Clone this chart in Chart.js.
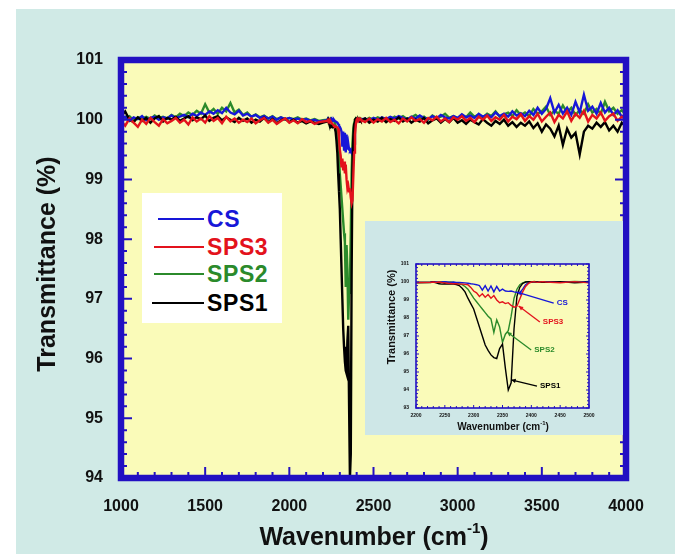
<!DOCTYPE html>
<html>
<head>
<meta charset="utf-8">
<script src="https://cdn.jsdelivr.net/npm/chart.js@4.4.1/dist/chart.umd.min.js"></script>
<style>
  body { margin: 0; background: #fff; }
  #page { position: relative; width: 675px; height: 554px; background: #fff; overflow: hidden; }
  #bg { position: absolute; left: 16px; top: 9px; right: 0; bottom: 0; background: #d0eae6; }
  #main { position: absolute; left: 0; top: 0; }
  #legend { position: absolute; left: 142px; top: 193px; width: 140px; height: 130px; background: #fff;
            font: bold 23px 'Liberation Sans', Arial, sans-serif; letter-spacing: 0.6px; }
  #legend .row { position: absolute; left: 0; height: 26px; }
  #legend .line { position: absolute; top: 12px; height: 2px; }
  #legend .txt { position: absolute; left: 65px; top: 0; line-height: 26px; }
  #insetBox { position: absolute; left: 365px; top: 221px; width: 258px; height: 214px; background: #cee7e7; }
  #inset { position: absolute; left: 0; top: 0; }
</style>
</head>
<body>
<div id="page">
  <div id="bg"></div>
  <canvas id="main" width="675" height="554"></canvas>
  <div id="legend"></div>
  <div id="insetBox"><canvas id="inset" width="258" height="214"></canvas></div>
</div>
<script>
// sampling grid (cm-1): coarse baseline, fine steps through the CO2 band
const leftWavenumbers = [];
for (let w = 1000; w <= 2225; w += 25) leftWavenumbers.push(w);
const dipWavenumbers = [];
for (let w = 2230; w <= 2420; w += 5) dipWavenumbers.push(w);
const rightWavenumbers = [];
for (let w = 2425; w <= 4000; w += 25) rightWavenumbers.push(w);

// CS
const csLeft = [
  100.02, 100.05, 99.98, 100.04, 100.01, 100.06, 99.99, 100.03, 100.05, 100.0,
  100.04, 100.02, 100.07, 100.03, 100.05, 100.08, 100.04, 100.1, 100.06, 100.12,
  100.08, 100.14, 100.1, 100.16, 100.11, 100.2, 100.12, 100.09, 100.15, 100.07,
  100.1, 100.05, 100.08, 100.03, 100.06, 100.02, 100.05, 100.0, 100.04, 100.01,
  100.03, 100.0, 100.02, 99.99, 100.01, 99.98, 100.0, 99.97, 99.98, 99.99
];
const csDip = [
  100.02, 100.0, 99.98, 100.0, 100.02, 100.0, 99.98, 100.0, 99.98, 99.97,
  99.96, 99.95, 99.93, 99.9, 99.88, 99.85, 99.8, 99.55, 99.8, 99.5,
  99.78, 99.45, 99.75, 99.5, 99.6, 99.5, 99.48, 99.5, 99.45, 99.42,
  99.4, 99.6, 99.85, 99.97, 100.0, 100.02, 100.0, 99.98, 100.0
];
const csRight = [
  100.0, 100.02, 99.98, 100.03, 100.0, 100.04, 100.01, 100.05, 100.02, 100.06,
  100.03, 100.0, 100.05, 100.02, 100.07, 100.03, 100.01, 100.06, 100.02, 100.08,
  100.04, 100.02, 100.06, 100.03, 100.09, 100.04, 100.07, 100.03, 100.1, 100.05,
  100.08, 100.04, 100.12, 100.06, 100.1, 100.05, 100.14, 100.07, 100.11, 100.06,
  100.15, 100.08, 100.2, 100.1, 100.18, 100.36, 100.12, 100.25, 100.1, 100.2,
  100.08, 100.3, 100.12, 100.42, 100.15, 100.22, 100.1, 100.28, 100.12, 100.2,
  100.08, 100.16, 100.05, 100.1
];

// SPS3
const sps3Left = [
  99.98, 99.9, 100.02, 99.95, 99.88, 100.0, 99.93, 100.03, 99.96, 99.9,
  100.01, 99.94, 99.98, 100.03, 99.95, 100.0, 99.92, 100.04, 99.97, 100.02,
  99.95, 100.06, 99.98, 100.03, 99.94, 100.05, 99.97, 100.02, 99.95, 100.0,
  99.96, 100.02, 99.94, 99.99, 100.03, 99.95, 100.0, 99.93, 99.98, 100.02,
  99.95, 99.99, 99.94, 100.01, 99.96, 99.98, 99.93, 99.96, 99.97, 99.98
];
const sps3Dip = [
  100.0, 99.98, 100.0, 99.97, 99.95, 99.93, 99.92, 99.9, 99.9, 99.88,
  99.88, 99.87, 99.85, 99.7, 99.5, 99.4, 99.2, 99.35, 99.15, 99.3,
  99.1, 99.25, 99.0, 98.85, 98.9, 98.8, 98.85, 98.7, 98.6, 98.65,
  99.05, 99.45, 99.75, 99.92, 100.0, 100.02, 99.98, 100.0, 100.02
];
const sps3Right = [
  100.0, 99.96, 100.02, 99.95, 100.01, 99.97, 100.03, 99.96, 100.0, 99.94,
  100.02, 99.97, 100.04, 99.98, 100.01, 99.95, 100.03, 99.99, 100.05, 99.97,
  100.02, 99.96, 100.04, 100.0, 100.06, 99.98, 100.03, 99.96, 100.05, 100.0,
  100.07, 99.98, 100.04, 100.0, 100.08, 99.97, 100.05, 100.01, 100.09, 99.98,
  100.06, 100.0, 100.1, 99.97, 100.05, 100.12, 99.96, 100.08, 100.02, 100.14,
  99.98, 100.1, 100.03, 100.15, 99.97, 100.08, 100.02, 100.12, 99.98, 100.06,
  100.1, 99.98, 100.05, 100.0
];

// SPS2
const sps2Left = [
  100.0, 100.03, 100.06, 99.99, 100.04, 100.02, 100.05, 100.01, 100.07, 100.03,
  100.05, 100.02, 100.08, 100.04, 100.1, 100.06, 100.12, 100.08, 100.15, 100.1,
  100.26, 100.12, 100.18, 100.1, 100.2, 100.14, 100.28, 100.12, 100.17, 100.08,
  100.12, 100.05, 100.09, 100.04, 100.07, 100.02, 100.06, 100.01, 100.04, 100.0,
  100.03, 100.01, 100.04, 100.0, 100.02, 99.99, 100.01, 99.98, 99.99, 100.0
];
const sps2Dip = [
  100.02, 100.0, 100.0, 100.02, 100.0, 99.98, 100.0, 99.98, 99.95, 99.9,
  99.85, 99.75, 99.6, 99.35, 99.1, 98.9, 98.7, 98.5, 98.3, 98.1,
  97.95, 97.2, 97.9, 97.5, 96.65, 97.1, 97.3, 98.1, 99.1, 99.6,
  99.85, 99.95, 100.0, 100.02, 100.0, 100.03, 100.0, 100.02, 100.0
];
const sps2Right = [
  100.02, 99.99, 100.03, 100.0, 100.04, 100.01, 100.03, 99.99, 100.05, 100.02,
  100.06, 100.01, 100.04, 100.08, 100.02, 100.05, 100.0, 100.07, 100.03, 100.05,
  100.1, 100.03, 100.06, 100.02, 100.08, 100.04, 100.12, 100.05, 100.08, 100.04,
  100.1, 100.06, 100.14, 100.05, 100.09, 100.12, 100.06, 100.16, 100.08, 100.12,
  100.06, 100.18, 100.1, 100.14, 100.22, 100.08, 100.15, 100.1, 100.24, 100.12,
  100.2, 100.08, 100.16, 100.1, 100.26, 100.12, 100.18, 100.1, 100.3, 100.14,
  100.2, 100.1, 100.16, 100.08
];

// SPS1
const sps1Left = [
  100.05, 100.14, 100.0, 99.96, 100.04, 99.98, 100.03, 99.95, 100.02, 100.06,
  99.97, 100.03, 100.0, 100.05, 99.98, 100.02, 100.06, 99.99, 100.04, 100.01,
  100.07, 99.98, 100.03, 100.06, 99.99, 100.04, 100.0, 99.96, 100.03, 99.98,
  100.02, 99.95, 100.0, 99.97, 100.03, 99.96, 100.01, 99.94, 99.99, 100.02,
  99.96, 100.0, 99.95, 99.98, 99.94, 99.97, 99.95, 99.93, 99.95, 99.97
];
const sps1Dip = [
  100.0, 99.95, 99.9, 99.88, 99.9, 99.88, 99.9, 99.88, 99.86, 99.8,
  99.65, 99.45, 99.1, 98.8, 98.5, 98.0, 97.5, 97.0, 96.5, 96.2,
  95.95, 95.8, 95.75, 96.3, 96.55, 95.2, 94.0, 94.4, 97.4, 99.2,
  99.7, 99.92, 100.0, 100.02, 100.0, 100.02, 100.0, 99.98, 100.0
];
const sps1Right = [
  99.98, 100.02, 99.95, 100.0, 99.97, 100.03, 99.96, 100.01, 99.98, 100.04,
  99.97, 100.02, 99.95, 100.0, 99.97, 100.03, 99.94, 99.99, 100.02, 99.95,
  100.01, 99.96, 100.03, 99.95, 99.99, 99.93, 100.0, 99.96, 99.92, 100.01,
  99.95, 99.9, 99.98, 99.93, 100.0, 99.9, 99.96, 99.88, 99.95, 99.9,
  99.97, 99.86, 99.94, 99.8, 99.92, 99.85, 99.72, 99.9, 99.58, 99.85,
  99.7, 99.78, 99.42, 99.8, 99.9, 99.85, 99.95, 99.88, 99.96, 99.82,
  99.9, 99.8, 99.95, 99.88
];

// axis ticks
const mainXTicks = [1000, 1500, 2000, 2500, 3000, 3500, 4000];
const mainYTicks = [94, 95, 96, 97, 98, 99, 100, 101];
const insetXTicks = [2200, 2250, 2300, 2350, 2400, 2450, 2500];
const insetYTicks = [93, 94, 95, 96, 97, 98, 99, 100, 101];

const FONT = "'Liberation Sans', Arial, sans-serif";
const FRAME = '#2210c2';
const PLOT_BG = '#fafbb9';
const colors = { cs: '#1717d8', sps3: '#e3121c', sps2: '#2b8a2b', sps1: '#000000' };

const wavenumbers = leftWavenumbers.concat(dipWavenumbers, rightWavenumbers);
function pts(left, dip, right) {
  const ys = left.concat(dip, right);
  return wavenumbers.map((x, i) => ({ x: x, y: ys[i] }));
}

// legend order: CS, SPS3, SPS2, SPS1 (red is drawn on top)
const series = [
  { label: 'SPS3', data: pts(sps3Left, sps3Dip, sps3Right), color: colors.sps3 },
  { label: 'SPS1', data: pts(sps1Left, sps1Dip, sps1Right), color: colors.sps1 },
  { label: 'CS', data: pts(csLeft, csDip, csRight), color: colors.cs },
  { label: 'SPS2', data: pts(sps2Left, sps2Dip, sps2Right), color: colors.sps2 }
];

function makeDatasets(width) {
  return series.map(s => ({
    label: s.label,
    data: s.data,
    borderColor: s.color,
    borderWidth: width,
    pointRadius: 0,
    tension: 0,
    fill: false
  }));
}

// frame, inward ticks, axis titles
function framePlugin(o) {
  return {
    id: 'frame',
    beforeDraw(chart) {
      const { ctx, chartArea: a } = chart;
      ctx.save();
      ctx.fillStyle = PLOT_BG;
      ctx.fillRect(a.left, a.top, a.right - a.left, a.bottom - a.top);
      ctx.restore();
    },
    afterDraw(chart) {
      const { ctx, chartArea: a, scales: { x, y } } = chart;
      ctx.save();
      ctx.strokeStyle = FRAME;
      ctx.lineWidth = o.tickWidth;
      ctx.beginPath();
      const nx = Math.round((x.max - x.min) / o.xMinor);
      for (let k = 0; k <= nx; k++) {
        const v = x.min + k * o.xMinor;
        const px = x.getPixelForValue(v);
        const len = (Math.round(v) % o.xMajor === 0) ? o.major : o.minor;
        ctx.moveTo(px, a.bottom); ctx.lineTo(px, a.bottom - len);
        if (o.topTicks) { ctx.moveTo(px, a.top); ctx.lineTo(px, a.top + len); }
      }
      const ny = Math.round((y.max - y.min) / o.yMinor);
      for (let k = 0; k <= ny; k++) {
        const v = y.min + k * o.yMinor;
        const py = y.getPixelForValue(v);
        const len = (Math.abs(v - Math.round(v)) < 1e-6) ? o.major : o.minor;
        ctx.moveTo(a.left, py); ctx.lineTo(a.left + len, py);
        ctx.moveTo(a.right, py); ctx.lineTo(a.right - len, py);
      }
      ctx.stroke();
      ctx.lineWidth = o.frameWidth;
      ctx.strokeRect(a.left, a.top, a.right - a.left, a.bottom - a.top);

      // axis titles
      ctx.fillStyle = '#111';
      ctx.textBaseline = 'middle';
      ctx.font = 'bold ' + o.titleSize + 'px ' + FONT;
      const base = 'Wavenumber (cm';
      const wBase = ctx.measureText(base).width;
      const wClose = ctx.measureText(')').width;
      ctx.font = 'bold ' + (o.titleSize * 0.6) + 'px ' + FONT;
      const wSup = ctx.measureText('-1').width;
      let sx = o.xTitle[0] - (wBase + wSup + wClose) / 2;
      ctx.textAlign = 'left';
      ctx.font = 'bold ' + o.titleSize + 'px ' + FONT;
      ctx.fillText(base, sx, o.xTitle[1]);
      ctx.font = 'bold ' + (o.titleSize * 0.6) + 'px ' + FONT;
      ctx.fillText('-1', sx + wBase, o.xTitle[1] - o.titleSize * 0.35);
      ctx.font = 'bold ' + o.titleSize + 'px ' + FONT;
      ctx.fillText(')', sx + wBase + wSup, o.xTitle[1]);

      ctx.translate(o.yTitle[0], o.yTitle[1]);
      ctx.rotate(-Math.PI / 2);
      ctx.textAlign = 'center';
      ctx.font = 'bold ' + o.yTitleSize + 'px ' + FONT;
      ctx.fillText('Transmittance (%)', 0, 0);
      ctx.restore();
    }
  };
}

function axes(o) {
  const tickFont = { family: FONT, size: o.tickSize, weight: 'bold' };
  return {
    x: {
      type: 'linear', min: o.xTicks[0], max: o.xTicks[o.xTicks.length - 1],
      afterBuildTicks: s => { s.ticks = o.xTicks.map(v => ({ value: v })); },
      afterFit: s => { s.height = o.xHeight; },
      grid: { display: false, drawTicks: false },
      border: { display: false },
      ticks: { color: '#111', padding: o.xPad, maxRotation: 0, font: tickFont, callback: v => String(v) }
    },
    y: {
      min: o.yTicks[0], max: o.yTicks[o.yTicks.length - 1],
      afterBuildTicks: s => { s.ticks = o.yTicks.map(v => ({ value: v })); },
      afterFit: s => { s.width = o.yWidth; },
      grid: { display: false, drawTicks: false },
      border: { display: false },
      ticks: { color: '#111', padding: o.yPad, font: tickFont, callback: v => String(v) }
    }
  };
}

new Chart(document.getElementById('main'), {
  type: 'line',
  data: { datasets: makeDatasets(2.4) },
  options: {
    responsive: false,
    animation: false,
    layout: { padding: { top: 60, right: 49, left: 0, bottom: 0 } },
    plugins: { legend: { display: false }, tooltip: { enabled: false } },
    scales: axes({ xTicks: mainXTicks, yTicks: mainYTicks, xHeight: 76, yWidth: 121, xPad: 19, yPad: 18, tickSize: 16 })
  },
  plugins: [framePlugin({ tickWidth: 2, major: 11, minor: 6, xMinor: 100, xMajor: 500, yMinor: 0.2,
                          frameWidth: 6.5, topTicks: false, titleSize: 25, yTitleSize: 25,
                          xTitle: [374, 538], yTitle: [48, 264] })]
});

// inset: zoom on the 2200-2500 cm-1 band
const insetNotes = [
  { label: 'CS', color: colors.cs, text: [2444, 98.83], tip: [2375, 99.44] },
  { label: 'SPS3', color: colors.sps3, text: [2420, 97.78], tip: [2378, 98.67] },
  { label: 'SPS2', color: colors.sps2, text: [2405, 96.22], tip: [2358, 97.22] },
  { label: 'SPS1', color: '#000', text: [2415, 94.22], tip: [2365, 94.56] }
];

const notesPlugin = {
  id: 'notes',
  afterDraw(chart) {
    const { ctx, scales: { x, y } } = chart;
    ctx.save();
    ctx.font = 'bold 8px ' + FONT;
    ctx.textBaseline = 'middle';
    ctx.textAlign = 'left';
    insetNotes.forEach(n => {
      const tx = x.getPixelForValue(n.text[0]), ty = y.getPixelForValue(n.text[1]);
      const px = x.getPixelForValue(n.tip[0]), py = y.getPixelForValue(n.tip[1]);
      const sx = tx - 3;
      ctx.strokeStyle = n.color;
      ctx.fillStyle = n.color;
      ctx.lineWidth = 1.3;
      ctx.beginPath(); ctx.moveTo(sx, ty); ctx.lineTo(px, py); ctx.stroke();
      const ang = Math.atan2(py - ty, px - sx);
      ctx.beginPath();
      ctx.moveTo(px, py);
      ctx.lineTo(px - 5 * Math.cos(ang - 0.45), py - 5 * Math.sin(ang - 0.45));
      ctx.lineTo(px - 5 * Math.cos(ang + 0.45), py - 5 * Math.sin(ang + 0.45));
      ctx.closePath(); ctx.fill();
      ctx.fillText(n.label, tx, ty);
    });
    ctx.restore();
  }
};

new Chart(document.getElementById('inset'), {
  type: 'line',
  data: { datasets: makeDatasets(1.4) },
  options: {
    responsive: false,
    animation: false,
    layout: { padding: { top: 43, right: 34, left: 0, bottom: 0 } },
    plugins: { legend: { display: false }, tooltip: { enabled: false } },
    scales: axes({ xTicks: insetXTicks, yTicks: insetYTicks, xHeight: 27, yWidth: 51, xPad: 5, yPad: 7, tickSize: 5 })
  },
  plugins: [framePlugin({ tickWidth: 1, major: 3, minor: 2, xMinor: 10, xMajor: 50, yMinor: 0.2,
                          frameWidth: 1.6, topTicks: true, titleSize: 10, yTitleSize: 11,
                          xTitle: [138, 206], yTitle: [27, 96] }), notesPlugin]
});

// legend box
const legendRows = [
  { label: 'CS', color: colors.cs, top: 13, x0: 16 },
  { label: 'SPS3', color: colors.sps3, top: 41, x0: 12 },
  { label: 'SPS2', color: colors.sps2, top: 68, x0: 12 },
  { label: 'SPS1', color: colors.sps1, top: 97, x0: 10 }
];
const legend = document.getElementById('legend');
legendRows.forEach(r => {
  const row = document.createElement('div');
  row.className = 'row';
  row.style.top = r.top + 'px';
  row.innerHTML = '<div class="line" style="left:' + r.x0 + 'px;width:' + (62 - r.x0) + 'px;background:' + r.color + '"></div>' +
                  '<div class="txt" style="color:' + r.color + '">' + r.label + '</div>';
  legend.appendChild(row);
});
</script>
</body>
</html>
